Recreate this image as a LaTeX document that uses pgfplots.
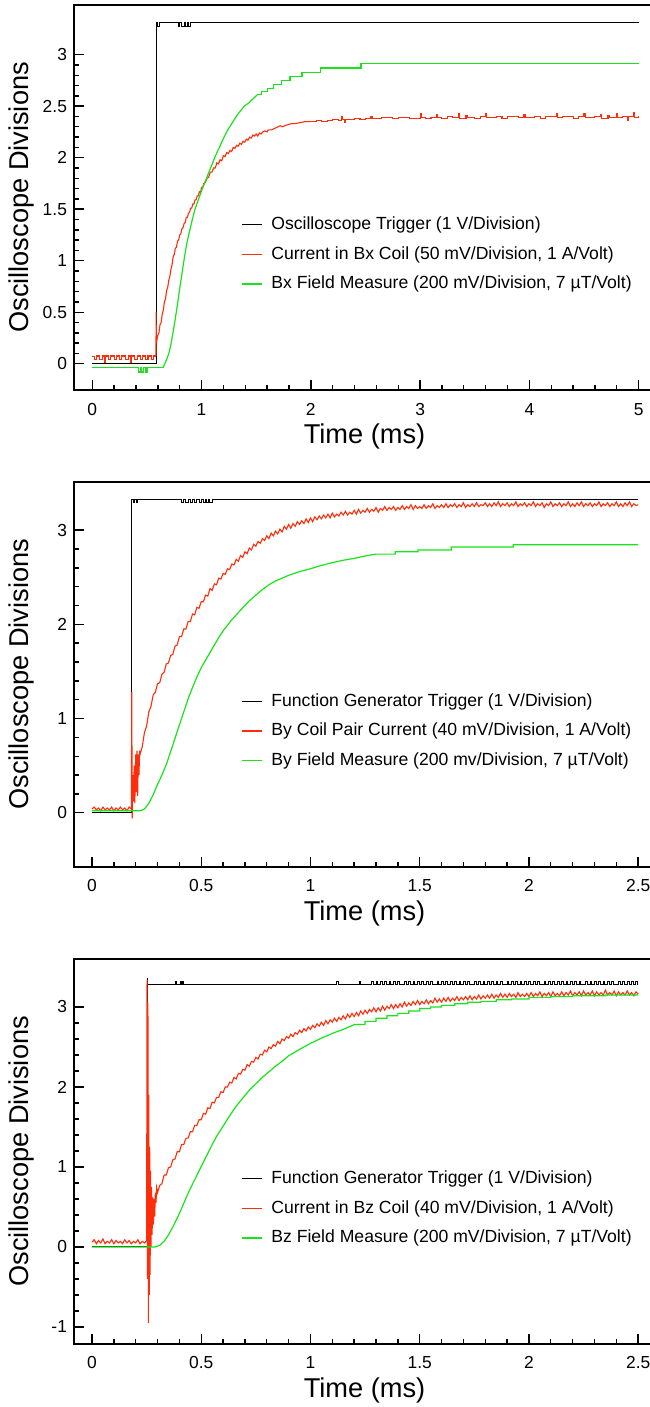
\documentclass[border=0pt]{standalone}
\usepackage{fontspec}
\setmainfont{Liberation Sans}
\setsansfont{Liberation Sans}
\usepackage{pgfplots}
\pgfplotsset{compat=1.18}
\definecolor{tred}{RGB}{255,45,10}
\definecolor{tgreen}{RGB}{25,228,25}
\pgfplotsset{
  osc/.style={
    scale only axis,
    width=290.5pt,
    anchor=south west,
    axis line style={line width=1pt},
    tick style={black, line width=0.7pt},
    major tick length=5pt,
    minor tick length=2.5pt,
    tick align=inside,
    xtick pos=lower, ytick pos=lower,
    ticklabel style={font=\fontsize{8.7}{10}\selectfont},
    xticklabel style={yshift=-3pt},
    /pgf/number format/assume math mode=true,
    xlabel={Time (ms)},
    ylabel={Oscilloscope Divisions},
    every axis y label/.style={at={(axis description cs:-0.0904,0.5)}, rotate=90, anchor=center, font=\fontsize{13.6}{16}\selectfont},
    every axis x label/.style={at={(axis description cs:0.5,-0.121)}, anchor=center, font=\fontsize{13.6}{16}\selectfont},
    legend style={draw=none, fill=none, font=\fontsize{8.8}{10}\selectfont,
      at={(axis description cs:0.2886,0.4598)}, anchor=north west,
      inner sep=0pt, outer sep=0pt, row sep=2.9pt, column sep=2.3pt, legend cell align=left},
    legend image code/.code={\draw[#1, line width=0.75pt] (0pt,0pt) -- (9.8pt,0pt);},
    trig/.style={black, line width=0.5pt, const plot},
    cur/.style={tred, line width=0.55pt},
    fld/.style={tgreen, line width=0.6pt},
  }
}
\begin{document}
\begin{tikzpicture}
% ---------------- Panel 1 ----------------
\begin{axis}[osc, at={(37pt,-195pt)}, height=192.65pt,
  xmin=-0.1675, xmax=5.150, ymin=-0.255, ymax=3.485,
  xtick={0,1,2,3,4,5}, ytick={0,0.5,1,1.5,2,2.5,3},
  minor x tick num=4, minor y tick num=4]
\addplot[trig] coordinates {
(0,0)(0.583,3.31)(0.600,3.27)(0.612,3.31)(0.785,3.27)(0.80,3.31)(0.82,3.27)(0.84,3.31)(0.85,3.27)(0.87,3.31)(0.88,3.27)(0.90,3.31)(5.0,3.31)};
\addlegendentry{Oscilloscope Trigger (1 V/Division)}
\addplot[cur, const plot] coordinates {
(0.00,0.07)(0.02,0.04)(0.04,0.075)(0.07,0.04)(0.09,0.075)(0.11,0.01)(0.12,0.075)(0.15,0.04)(0.17,0.075)(0.20,0.045)
(0.22,0.075)(0.25,0.04)(0.27,0.075)(0.30,0.045)(0.33,0.075)(0.35,0.01)(0.36,0.075)(0.39,0.04)(0.41,0.075)(0.44,0.045)
(0.46,0.075)(0.49,0.04)(0.51,0.075)(0.54,0.045)(0.56,0.075)(0.583,0.075)};
\addlegendentry{Current in Bx Coil (50 mV/Division, 1 A/Volt)}
\addplot[cur, forget plot] coordinates {
(0.583,0.075)(0.584,0.50)(0.586,0.20)(0.60,0.28)(0.61,0.30)(0.62,0.38)(0.63,0.40)(0.64,0.48)(0.65,0.52)(0.66,0.60)
(0.67,0.63)(0.68,0.71)(0.69,0.74)(0.70,0.81)(0.71,0.85)(0.72,0.92)(0.73,0.96)(0.74,1.04)(0.75,1.06)(0.76,1.12)
(0.77,1.13)(0.78,1.19)(0.79,1.20)(0.80,1.25)(0.81,1.26)(0.82,1.31)(0.83,1.32)(0.84,1.36)(0.85,1.37)(0.86,1.42)
(0.87,1.42)(0.88,1.46)(0.89,1.47)(0.90,1.51)(0.91,1.51)(0.92,1.55)(0.93,1.55)(0.94,1.59)(0.95,1.59)(0.96,1.63)
(0.97,1.63)(0.98,1.67)(0.99,1.66)(1.00,1.71)(1.01,1.71)(1.02,1.75)(1.035,1.76)(1.05,1.80)(1.065,1.81)(1.08,1.86)
(1.095,1.86)(1.11,1.90)(1.125,1.90)(1.14,1.95)(1.155,1.94)(1.17,1.98)(1.185,1.97)(1.20,2.02)(1.215,2.01)(1.23,2.05)
(1.245,2.04)(1.26,2.07)(1.275,2.06)(1.29,2.10)(1.305,2.09)(1.32,2.12)(1.335,2.11)(1.35,2.14)(1.365,2.13)(1.38,2.16)
(1.395,2.15)(1.41,2.18)(1.425,2.17)(1.44,2.20)(1.455,2.19)(1.47,2.22)(1.485,2.21)(1.50,2.23)(1.515,2.21)(1.53,2.24)
(1.545,2.23)(1.56,2.25)(1.58,2.26)(1.60,2.25)(1.61,2.27)(1.64,2.27)(1.66,2.28)(1.68,2.29)(1.70,2.30)(1.72,2.31)
(1.74,2.30)(1.76,2.31)(1.79,2.32)(1.82,2.33)(1.85,2.33)(1.90,2.34)(1.95,2.35)(2.00,2.35)};
\addplot[cur, const plot, forget plot] coordinates {
(2.00,2.35)(2.05,2.36)(2.10,2.35)(2.15,2.36)(2.20,2.37)(2.25,2.36)(2.28,2.40)(2.29,2.37)(2.31,2.34)(2.32,2.37)(2.40,2.38)
(2.45,2.37)(2.50,2.38)(2.55,2.40)(2.56,2.38)(2.65,2.39)(2.75,2.38)(2.80,2.39)(2.90,2.38)(3.00,2.43)(3.01,2.39)
(3.05,2.38)(3.10,2.39)(3.15,2.42)(3.16,2.39)(3.20,2.38)(3.25,2.40)(3.30,2.39)(3.35,2.43)(3.36,2.38)(3.42,2.41)
(3.43,2.39)(3.50,2.38)(3.55,2.40)(3.60,2.43)(3.61,2.39)(3.70,2.40)(3.75,2.38)(3.80,2.40)(3.90,2.39)(3.95,2.42)
(3.96,2.39)(4.05,2.40)(4.10,2.38)(4.15,2.40)(4.25,2.43)(4.26,2.39)(4.30,2.40)(4.40,2.38)(4.45,2.40)(4.50,2.43)
(4.51,2.39)(4.60,2.40)(4.65,2.42)(4.66,2.38)(4.72,2.41)(4.73,2.39)(4.80,2.43)(4.81,2.39)(4.85,2.40)(4.90,2.36)
(4.91,2.40)(4.95,2.44)(4.96,2.39)(5.00,2.40)};
\addplot[fld, const plot] coordinates {
(0.00,-0.04)(0.42,-0.08)(0.44,-0.04)(0.45,-0.08)(0.47,-0.04)(0.49,-0.08)(0.50,-0.04)(0.645,-0.04)};
\addlegendentry{Bx Field Measure (200 mV/Division, 7 µT/Volt)}
\addplot[fld, forget plot] coordinates {
(0.645,-0.04)(0.66,-0.01)(0.68,0.04)(0.70,0.10)(0.72,0.19)(0.74,0.31)(0.76,0.44)(0.78,0.58)(0.80,0.73)(0.82,0.87)
(0.84,1.01)(0.86,1.14)(0.88,1.24)(0.90,1.33)(0.92,1.42)(0.94,1.50)(0.96,1.56)(0.98,1.62)(1.00,1.68)(1.03,1.76)
(1.06,1.84)(1.09,1.92)(1.12,2.00)(1.15,2.07)(1.18,2.14)(1.21,2.21)(1.24,2.27)(1.27,2.32)(1.30,2.37)(1.33,2.42)
(1.36,2.46)(1.39,2.50)(1.43,2.53)(1.47,2.57)(1.51,2.61)};
\addplot[fld, const plot, forget plot] coordinates {
(1.51,2.61)(1.55,2.64)(1.60,2.67)(1.66,2.71)(1.73,2.75)(1.81,2.79)(1.92,2.83)(2.09,2.87)(2.46,2.915)(5.00,2.915)};
\end{axis}
% ---------------- Panel 2 ----------------
\begin{axis}[osc, at={(37pt,-433.35pt)}, height=192.5pt,
  xmin=-0.0824, xmax=2.577, ymin=-0.573, ymax=3.514,
  xtick={0,0.5,1,1.5,2,2.5}, ytick={0,1,2,3},
  minor x tick num=4, minor y tick num=4]
\addplot[trig] coordinates {
(0,0)(0.183,3.33)(0.19,3.29)(0.195,3.33)(0.205,3.29)(0.21,3.33)(0.41,3.29)(0.42,3.33)(0.43,3.29)(0.44,3.33)
(0.45,3.29)(0.46,3.33)(0.47,3.29)(0.48,3.33)(0.49,3.29)(0.50,3.33)(0.51,3.29)(0.52,3.33)(0.525,3.29)(0.535,3.33)
(0.54,3.29)(0.55,3.33)(2.5,3.33)};
\addlegendentry{Function Generator Trigger (1 V/Division)}
\addplot[cur] coordinates {
(0.000,0.04)(0.010,0.06)(0.020,0.03)(0.030,0.05)(0.040,0.02)(0.050,0.06)(0.060,0.03)(0.070,0.05)(0.080,0.03)(0.090,0.06)
(0.100,0.02)(0.110,0.05)(0.120,0.03)(0.130,0.06)(0.140,0.03)(0.150,0.05)(0.160,0.02)(0.170,0.06)(0.180,0.04)(0.182,1.28)
(0.184,-0.06)(0.187,0.40)(0.190,0.12)(0.193,0.50)(0.196,0.10)(0.200,0.62)(0.203,0.22)(0.206,0.66)(0.209,0.18)(0.212,0.62)
(0.215,0.40)(0.218,0.66)(0.22,0.62)(0.23,0.70)(0.24,0.85)(0.25,0.92)(0.26,1.07)(0.27,1.13)(0.28,1.25)(0.29,1.28)
(0.30,1.37)(0.31,1.38)(0.32,1.47)(0.33,1.49)(0.34,1.58)(0.35,1.59)(0.36,1.67)(0.37,1.68)(0.38,1.77)(0.39,1.78)
(0.40,1.87)(0.41,1.87)(0.42,1.95)(0.43,1.95)(0.44,2.03)(0.45,2.03)(0.46,2.11)(0.47,2.10)(0.48,2.18)(0.49,2.17)
(0.50,2.24)(0.51,2.24)(0.52,2.31)(0.53,2.30)(0.54,2.38)(0.55,2.36)(0.56,2.43)(0.57,2.42)(0.58,2.49)(0.59,2.48)
(0.60,2.54)(0.61,2.53)(0.62,2.59)(0.63,2.58)(0.64,2.64)(0.65,2.63)(0.66,2.69)(0.67,2.67)(0.68,2.73)(0.69,2.71)
(0.70,2.77)(0.71,2.75)(0.72,2.81)(0.73,2.79)(0.74,2.85)(0.75,2.83)(0.76,2.88)(0.77,2.86)(0.78,2.91)(0.79,2.89)
(0.80,2.94)(0.81,2.91)(0.82,2.97)(0.83,2.94)(0.84,2.99)(0.85,2.96)(0.86,3.01)(0.87,2.98)(0.88,3.04)(0.89,3.01)
(0.90,3.06)(0.91,3.02)(0.92,3.07)(0.93,3.04)(0.94,3.09)(0.95,3.06)(0.96,3.10)(0.97,3.07)(0.98,3.12)(0.99,3.08)
(1.00,3.13)(1.01,3.09)(1.02,3.14)(1.03,3.11)(1.04,3.15)(1.05,3.12)(1.06,3.16)(1.07,3.13)(1.08,3.17)(1.09,3.13)
(1.10,3.18)(1.11,3.14)(1.12,3.17)(1.13,3.15)(1.14,3.19)(1.15,3.16)(1.16,3.20)(1.17,3.16)(1.18,3.19)(1.19,3.17)
(1.20,3.21)(1.21,3.17)(1.22,3.22)(1.23,3.18)(1.24,3.21)(1.25,3.19)(1.26,3.23)(1.27,3.19)(1.28,3.22)(1.29,3.20)
(1.30,3.24)(1.31,3.19)(1.32,3.23)(1.33,3.21)(1.34,3.25)(1.35,3.21)(1.36,3.24)(1.37,3.22)(1.38,3.25)(1.39,3.21)
(1.40,3.24)(1.41,3.22)(1.42,3.26)(1.43,3.22)(1.44,3.25)(1.45,3.23)(1.46,3.27)(1.47,3.22)(1.48,3.26)(1.49,3.23)
(1.50,3.25)(1.51,3.23)(1.52,3.27)(1.53,3.23)(1.54,3.26)(1.55,3.24)(1.56,3.28)(1.57,3.23)(1.58,3.26)(1.59,3.24)
(1.60,3.27)(1.61,3.24)(1.62,3.28)(1.63,3.24)(1.64,3.27)(1.65,3.25)(1.66,3.28)(1.67,3.24)(1.68,3.27)(1.69,3.25)
(1.70,3.29)(1.71,3.24)(1.72,3.27)(1.73,3.25)(1.74,3.28)(1.75,3.25)(1.76,3.29)(1.77,3.25)(1.78,3.27)(1.79,3.26)
(1.80,3.29)(1.81,3.25)(1.82,3.28)(1.83,3.25)(1.84,3.29)(1.85,3.26)(1.86,3.30)(1.87,3.25)(1.88,3.28)(1.89,3.26)
(1.90,3.29)(1.91,3.25)(1.92,3.28)(1.93,3.26)(1.94,3.30)(1.95,3.25)(1.96,3.28)(1.97,3.26)(1.98,3.29)(1.99,3.25)
(2.00,3.28)(2.01,3.26)(2.02,3.30)(2.03,3.25)(2.04,3.28)(2.05,3.26)(2.06,3.29)(2.07,3.24)(2.08,3.28)(2.09,3.26)
(2.10,3.30)(2.11,3.25)(2.12,3.28)(2.13,3.26)(2.14,3.29)(2.15,3.25)(2.16,3.28)(2.17,3.26)(2.18,3.30)(2.19,3.25)
(2.20,3.28)(2.21,3.25)(2.22,3.29)(2.23,3.26)(2.24,3.30)(2.25,3.25)(2.26,3.28)(2.27,3.26)(2.28,3.29)(2.29,3.25)
(2.30,3.28)(2.31,3.26)(2.32,3.30)(2.33,3.25)(2.34,3.28)(2.35,3.26)(2.36,3.29)(2.37,3.25)(2.38,3.28)(2.39,3.26)
(2.40,3.30)(2.41,3.25)(2.42,3.28)(2.43,3.25)(2.44,3.29)(2.45,3.26)(2.46,3.30)(2.47,3.25)(2.48,3.28)(2.49,3.26)(2.50,3.27)};
\addlegendentry{By Coil Pair Current (40 mV/Division, 1 A/Volt)}
\addplot[fld] coordinates {
(0.00,0.02)(0.22,0.02)(0.24,0.04)(0.26,0.10)(0.28,0.19)(0.30,0.30)(0.32,0.40)(0.34,0.51)(0.36,0.65)(0.38,0.79)
(0.40,0.93)(0.42,1.07)(0.44,1.21)(0.46,1.33)(0.48,1.44)(0.50,1.54)(0.52,1.62)(0.54,1.70)(0.56,1.78)(0.58,1.86)
(0.60,1.93)(0.62,1.99)(0.64,2.05)(0.66,2.10)(0.68,2.15)(0.70,2.20)(0.72,2.25)(0.75,2.31)(0.78,2.37)(0.81,2.42)
(0.84,2.46)(0.87,2.49)(0.90,2.52)(0.95,2.56)(1.00,2.59)(1.05,2.625)(1.10,2.655)(1.15,2.68)(1.20,2.70)(1.25,2.725)
(1.30,2.745)(1.388,2.745)(1.388,2.77)(1.492,2.77)(1.492,2.79)(1.644,2.79)(1.644,2.82)(1.928,2.82)(1.928,2.845)(2.50,2.845)};
\addlegendentry{By Field Measure (200 mv/Division, 7 µT/Volt)}
\end{axis}
% ---------------- Panel 3 ----------------
\begin{axis}[osc, at={(37pt,-671.85pt)}, height=192.35pt,
  xmin=-0.0824, xmax=2.577, ymin=-1.21, ymax=3.6,
  xtick={0,0.5,1,1.5,2,2.5}, ytick={-1,0,1,2,3},
  minor x tick num=4, minor y tick num=4]
\addplot[trig] coordinates {
(0,0)(0.253,3.36)(0.256,3.285)(0.38,3.32)(0.386,3.285)(0.405,3.32)(0.41,3.285)(0.415,3.32)(0.42,3.285)(1.12,3.32)
(1.126,3.285)(1.225,3.32)(1.231,3.285)
(1.280,3.32)(1.288,3.285)(1.300,3.32)(1.308,3.285)(1.320,3.32)(1.328,3.285)(1.340,3.32)(1.348,3.285)(1.360,3.32)(1.368,3.285)
(1.380,3.32)(1.388,3.285)(1.400,3.32)(1.408,3.285)(1.430,3.32)(1.438,3.285)(1.450,3.32)(1.458,3.285)(1.470,3.32)(1.478,3.285)
(1.490,3.32)(1.498,3.285)(1.510,3.32)(1.518,3.285)(1.530,3.32)(1.538,3.285)(1.550,3.32)(1.558,3.285)(1.580,3.32)(1.588,3.285)
(1.600,3.32)(1.608,3.285)(1.620,3.32)(1.628,3.285)(1.640,3.32)(1.648,3.285)(1.660,3.32)(1.668,3.285)(1.680,3.32)(1.688,3.285)
(1.700,3.32)(1.708,3.285)(1.720,3.32)(1.728,3.285)(1.750,3.32)(1.758,3.285)(1.770,3.32)(1.778,3.285)(1.790,3.32)(1.798,3.285)
(1.810,3.32)(1.818,3.285)(1.830,3.32)(1.838,3.285)(1.850,3.32)(1.858,3.285)(1.870,3.32)(1.878,3.285)(1.900,3.32)(1.908,3.285)
(1.920,3.32)(1.928,3.285)(1.940,3.32)(1.948,3.285)(1.960,3.32)(1.968,3.285)(1.980,3.32)(1.988,3.285)(2.000,3.32)(2.008,3.285)
(2.020,3.32)(2.028,3.285)(2.040,3.32)(2.048,3.285)(2.070,3.32)(2.078,3.285)(2.090,3.32)(2.098,3.285)(2.110,3.32)(2.118,3.285)
(2.130,3.32)(2.138,3.285)(2.150,3.32)(2.158,3.285)(2.170,3.32)(2.178,3.285)(2.190,3.32)(2.198,3.285)(2.210,3.32)(2.218,3.285)
(2.230,3.32)(2.238,3.285)(2.260,3.32)(2.268,3.285)(2.280,3.32)(2.288,3.285)(2.300,3.32)(2.308,3.285)(2.320,3.32)(2.328,3.285)
(2.340,3.32)(2.348,3.285)(2.360,3.32)(2.368,3.285)(2.380,3.32)(2.388,3.285)(2.410,3.32)(2.418,3.285)(2.430,3.32)(2.438,3.285)
(2.450,3.32)(2.458,3.285)(2.470,3.32)(2.478,3.285)(2.490,3.32)(2.496,3.285)(2.50,3.285)};
\addlegendentry{Function Generator Trigger (1 V/Division)}
\addplot[cur] coordinates {
(0.00,0.06)(0.01,0.09)(0.02,0.04)(0.03,0.08)(0.04,0.05)(0.05,0.10)(0.06,0.04)(0.07,0.07)(0.08,0.05)(0.09,0.09)
(0.10,0.04)(0.11,0.08)(0.12,0.05)(0.13,0.07)(0.14,0.04)(0.15,0.09)(0.16,0.05)(0.17,0.08)(0.18,0.04)(0.19,0.07)
(0.20,0.05)(0.21,0.09)(0.22,0.04)(0.23,0.07)(0.24,0.05)(0.25,0.08)(0.252,3.34)(0.254,-0.40)(0.256,3.05)(0.258,-0.95)
(0.260,1.90)(0.262,-0.60)(0.264,1.25)(0.266,-0.35)(0.268,0.95)(0.270,0.00)(0.272,0.75)(0.275,0.15)(0.278,0.62)(0.281,0.28)
(0.284,0.60)(0.287,0.38)(0.290,0.68)(0.293,0.55)(0.296,0.74)(0.30,0.68)(0.31,0.77)(0.32,0.79)(0.33,0.90)(0.34,0.90)
(0.35,0.99)(0.36,1.00)(0.37,1.09)(0.38,1.10)(0.39,1.19)(0.40,1.19)(0.41,1.28)(0.42,1.28)(0.43,1.36)(0.44,1.36)
(0.45,1.44)(0.46,1.44)(0.47,1.52)(0.48,1.52)(0.49,1.59)(0.50,1.59)(0.51,1.67)(0.52,1.66)(0.53,1.74)(0.54,1.73)
(0.55,1.81)(0.56,1.80)(0.57,1.87)(0.58,1.87)(0.59,1.94)(0.60,1.93)(0.61,2.00)(0.62,2.00)(0.63,2.06)(0.64,2.05)
(0.65,2.12)(0.66,2.10)(0.67,2.17)(0.68,2.16)(0.69,2.22)(0.70,2.21)(0.71,2.28)(0.72,2.26)(0.73,2.32)(0.74,2.31)
(0.75,2.37)(0.76,2.35)(0.77,2.41)(0.78,2.40)(0.79,2.46)(0.80,2.44)(0.81,2.50)(0.82,2.48)(0.83,2.53)(0.84,2.51)
(0.85,2.57)(0.86,2.54)(0.87,2.60)(0.88,2.58)(0.89,2.63)(0.90,2.61)(0.91,2.66)(0.92,2.63)(0.93,2.68)(0.94,2.66)
(0.95,2.71)(0.96,2.68)(0.97,2.73)(0.98,2.70)(0.99,2.75)(1.00,2.72)(1.01,2.77)(1.02,2.74)(1.03,2.79)(1.04,2.76)
(1.05,2.81)(1.06,2.77)(1.07,2.83)(1.08,2.79)(1.09,2.84)(1.10,2.81)(1.11,2.86)(1.12,2.82)(1.13,2.87)(1.14,2.84)
(1.15,2.89)(1.16,2.85)(1.17,2.91)(1.18,2.87)(1.19,2.92)(1.20,2.88)(1.21,2.93)(1.22,2.89)(1.23,2.95)(1.24,2.91)
(1.25,2.96)(1.26,2.92)(1.27,2.97)(1.28,2.94)(1.29,2.99)(1.30,2.94)(1.31,2.99)(1.32,2.95)(1.33,3.01)(1.34,2.96)
(1.35,3.01)(1.36,2.98)(1.37,3.03)(1.38,2.98)(1.39,3.03)(1.40,2.99)(1.41,3.04)(1.42,3.00)(1.43,3.06)(1.44,3.01)
(1.45,3.05)(1.46,3.02)(1.47,3.07)(1.48,3.03)(1.49,3.08)(1.50,3.03)(1.51,3.07)(1.52,3.04)(1.53,3.09)(1.54,3.04)
(1.55,3.08)(1.56,3.05)(1.57,3.11)(1.58,3.06)(1.59,3.10)(1.60,3.06)(1.61,3.11)(1.62,3.07)(1.63,3.12)(1.64,3.07)
(1.65,3.11)(1.66,3.08)(1.67,3.13)(1.68,3.08)(1.69,3.12)(1.70,3.09)(1.71,3.13)(1.72,3.09)(1.73,3.14)(1.74,3.09)
(1.75,3.13)(1.76,3.10)(1.77,3.15)(1.78,3.10)(1.79,3.14)(1.80,3.11)(1.81,3.15)(1.82,3.11)(1.83,3.16)(1.84,3.11)
(1.85,3.15)(1.86,3.12)(1.87,3.17)(1.88,3.12)(1.89,3.16)(1.90,3.12)(1.91,3.17)(1.92,3.13)(1.93,3.16)(1.94,3.12)
(1.95,3.18)(1.96,3.13)(1.97,3.16)(1.98,3.13)(1.99,3.17)(2.00,3.13)(2.01,3.18)(2.02,3.13)(2.03,3.17)(2.04,3.14)
(2.05,3.19)(2.06,3.13)(2.07,3.17)(2.08,3.14)(2.09,3.18)(2.10,3.13)(2.11,3.19)(2.12,3.14)(2.13,3.17)(2.14,3.14)
(2.15,3.19)(2.16,3.14)(2.17,3.18)(2.18,3.15)(2.19,3.20)(2.20,3.14)(2.21,3.18)(2.22,3.15)(2.23,3.19)(2.24,3.14)
(2.25,3.20)(2.26,3.15)(2.27,3.18)(2.28,3.15)(2.29,3.20)(2.30,3.14)(2.31,3.19)(2.32,3.15)(2.33,3.18)(2.34,3.15)
(2.35,3.21)(2.36,3.15)(2.37,3.18)(2.38,3.15)(2.39,3.20)(2.40,3.14)(2.41,3.19)(2.42,3.15)(2.43,3.18)(2.44,3.15)
(2.45,3.20)(2.46,3.15)(2.47,3.18)(2.48,3.14)(2.49,3.19)(2.50,3.16)};
\addlegendentry{Current in Bz Coil (40 mV/Division, 1 A/Volt)}
\addplot[fld] coordinates {
(0.00,0.00)(0.29,0.00)(0.31,0.02)(0.33,0.07)(0.35,0.15)(0.37,0.25)(0.39,0.36)(0.41,0.48)(0.43,0.61)(0.45,0.73)
(0.47,0.84)(0.49,0.95)(0.51,1.06)(0.53,1.17)(0.55,1.28)(0.57,1.38)(0.60,1.51)(0.63,1.64)(0.66,1.76)(0.69,1.86)
(0.72,1.96)(0.75,2.04)(0.78,2.12)(0.81,2.19)(0.84,2.26)(0.87,2.32)(0.90,2.39)(0.95,2.47)(1.00,2.545)(1.05,2.61)
(1.10,2.67)(1.15,2.72)(1.20,2.78)(1.25,2.78)(1.25,2.82)(1.30,2.82)(1.30,2.86)(1.35,2.86)(1.35,2.89)(1.40,2.89)
(1.40,2.92)(1.45,2.92)(1.45,2.95)(1.50,2.95)(1.50,2.98)(1.55,2.98)(1.55,3.00)(1.60,3.00)(1.60,3.02)(1.66,3.02)
(1.66,3.04)(1.72,3.04)(1.72,3.06)(1.78,3.06)(1.78,3.07)(1.85,3.07)(1.85,3.09)(1.92,3.09)(1.92,3.10)(2.00,3.10)
(2.00,3.12)(2.10,3.12)(2.10,3.13)(2.20,3.13)(2.20,3.14)(2.35,3.14)(2.35,3.15)(2.50,3.15)};
\addlegendentry{Bz Field Measure (200 mV/Division, 7 µT/Volt)}
\end{axis}
\pgfresetboundingbox
\useasboundingbox (0pt,0pt) rectangle (324.5pt,-703.5pt);
\end{tikzpicture}
\end{document}
